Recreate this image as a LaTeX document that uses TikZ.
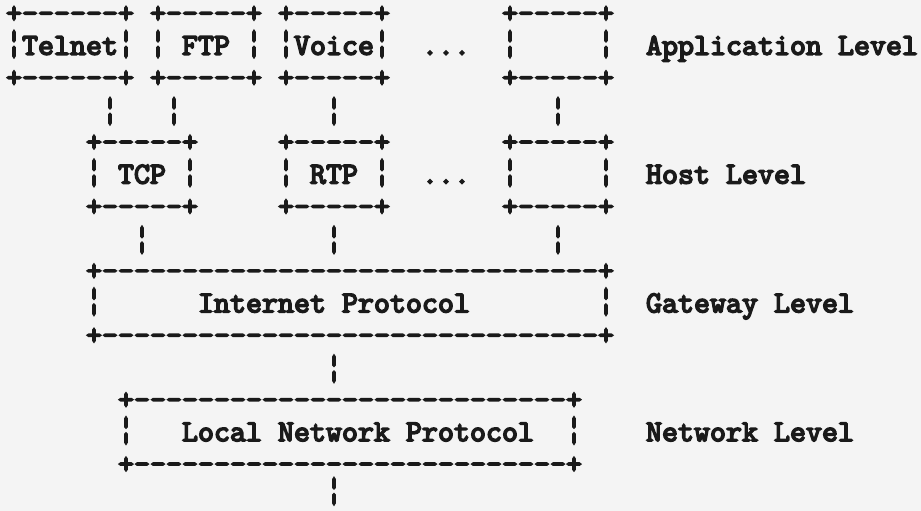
\documentclass[tikz,border=0pt]{standalone}
\usepackage{fontspec}
\usetikzlibrary{calc}
\newfontfamily\tw[Extension=.otf, FakeBold=5]{lmmono10-regular}
\definecolor{paper}{HTML}{F4F4F4}
\definecolor{ink}{HTML}{1A1A1A}
\newcount\dcnt
\newcommand{\dashes}[1]{\dcnt=#1\relax\loop\ifnum\dcnt>0 \mbox{-}\advance\dcnt by -1\repeat}
\newcommand{\blank}[1]{\hskip#1\dimexpr0.525em\relax}
\newcommand{\bb}{\scalebox{1}[1.15]{¦}}
\newcommand{\ascii}[3]{\vtop{\baselineskip=32.2pt\lineskiplimit=-100pt\lineskip=0pt\hbox{#1}\hbox{#2}\hbox{#3}}}
\tikzset{
  tty/.style={font=\fontsize{30.476}{32.2}\selectfont\tw, text=ink, inner sep=0pt, outer sep=0pt},
  asc/.style={tty, anchor=base west},
  pipe/.style={tty, anchor=center}
}
\begin{document}
\begin{tikzpicture}[x=1pt,y=1pt]
\fill[paper,use as bounding box] (0,0) rectangle (921,-511);
% column centres used by the connectors
\coordinate (c6) at (110,0);
\coordinate (c8) at (142,0);
\coordinate (c10) at (174,0);
\coordinate (c20) at (334,0);
\coordinate (c34) at (558,0);
\coordinate (bottom) at (334,-509);
% application level
\node[asc] (telnet) at (6,-22.6) {\ascii{+\dashes{6}+}{\bb Telnet\bb}{+\dashes{6}+}};
\node[asc] (ftp) at (150,-22.6) {\ascii{+\dashes{5}+}{\bb\blank{1}FTP\blank{1}\bb}{+\dashes{5}+}};
\node[asc] (voice) at (278,-22.6) {\ascii{+\dashes{5}+}{\bb Voice\bb}{+\dashes{5}+}};
\node[asc] (dotsA) at (422,-54.8) {...};
\node[asc] (appbox) at (502,-22.6) {\ascii{+\dashes{5}+}{\bb\blank{5}\bb}{+\dashes{5}+}};
\node[asc] (applevel) at (646,-54.8) {Application Level};
% host level
\node[asc] (tcp) at (86,-151.4) {\ascii{+\dashes{5}+}{\bb\blank{1}TCP\blank{1}\bb}{+\dashes{5}+}};
\node[asc] (rtp) at (278,-151.4) {\ascii{+\dashes{5}+}{\bb\blank{1}RTP\blank{1}\bb}{+\dashes{5}+}};
\node[asc] (dotsH) at (422,-183.6) {...};
\node[asc] (hostbox) at (502,-151.4) {\ascii{+\dashes{5}+}{\bb\blank{5}\bb}{+\dashes{5}+}};
\node[asc] (hostlevel) at (646,-183.6) {Host Level};
% gateway level
\node[asc] (ip) at (86,-280.2) {\ascii{+\dashes{31}+}{\bb\blank{6}Internet Protocol\blank{8}\bb}{+\dashes{31}+}};
\node[asc] (gwlevel) at (646,-312.4) {Gateway Level};
% network level
\node[asc] (lnp) at (118,-409) {\ascii{+\dashes{27}+}{\bb\blank{3}Local Network Protocol\blank{2}\bb}{+\dashes{27}+}};
\node[asc] (netlevel) at (646,-441.2) {Network Level};
% connectors
\path (telnet.south -| c6) -- (tcp.north -| c6) node[pipe,midway] (p1) {\bb};
\path (ftp.south -| c10) -- (tcp.north -| c10) node[pipe,midway] (p2) {\bb};
\path (voice.south -| c20) -- (rtp.north -| c20) node[pipe,midway] (p3) {\bb};
\path (appbox.south -| c34) -- (hostbox.north -| c34) node[pipe,midway] (p4) {\bb};
\path (tcp.south -| c8) -- (ip.north -| c8) node[pipe,midway] (p5) {\bb};
\path (rtp.south -| c20) -- (ip.north -| c20) node[pipe,midway] (p6) {\bb};
\path (hostbox.south -| c34) -- (ip.north -| c34) node[pipe,midway] (p7) {\bb};
\path (ip.south -| c20) -- (lnp.north -| c20) node[pipe,midway] (p8) {\bb};
\path (lnp.south -| c20) -- (bottom) node[pipe,midway] (p9) {\bb};
\end{tikzpicture}
\end{document}
